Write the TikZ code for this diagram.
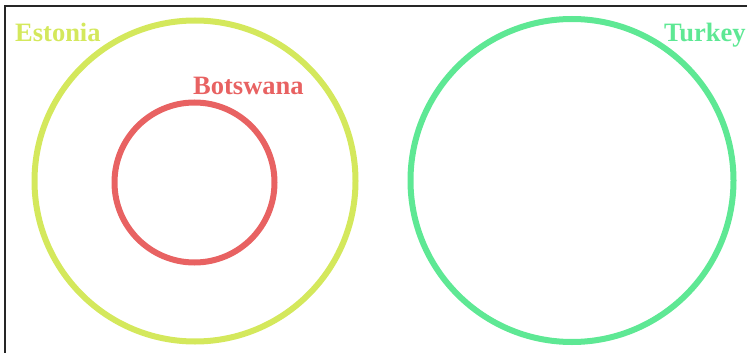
\documentclass[tikz,border=0pt]{standalone}
\usepackage{fontspec}
\setmainfont{Liberation Serif}
\definecolor{cEst}{RGB}{212,232,92}
\definecolor{cBot}{RGB}{232,98,98}
\definecolor{cTur}{RGB}{94,232,148}
\begin{document}
\begin{tikzpicture}[x=1pt,y=-1pt,
  ring/.style={line width=6pt},
  lbl/.style={font=\bfseries\fontsize{26.5}{29}\selectfont, inner sep=0pt}]
\useasboundingbox (0,0) rectangle (747,353);
\draw[line width=1.6pt, black!85] (5,353) -- (5,6) -- (747,6);
\node[ring, draw=cEst, circle, minimum size=321pt, inner sep=0pt] (est) at (195,181) {};
\node[ring, draw=cBot, circle, minimum size=160pt, inner sep=0pt] (bot) at (194.5,182.5) {};
\node[ring, draw=cTur, circle, minimum size=323pt, inner sep=0pt] (tur) at (572,180.5) {};
\node[lbl, text=cEst, anchor=base west] (estl) at (15,42) {Estonia};
\node[lbl, text=cBot, anchor=base west] (botl) at (193,95) {Botswana};
\node[lbl, text=cTur, anchor=base west] (turl) at (664,42) {Turkey};
\end{tikzpicture}
\end{document}
